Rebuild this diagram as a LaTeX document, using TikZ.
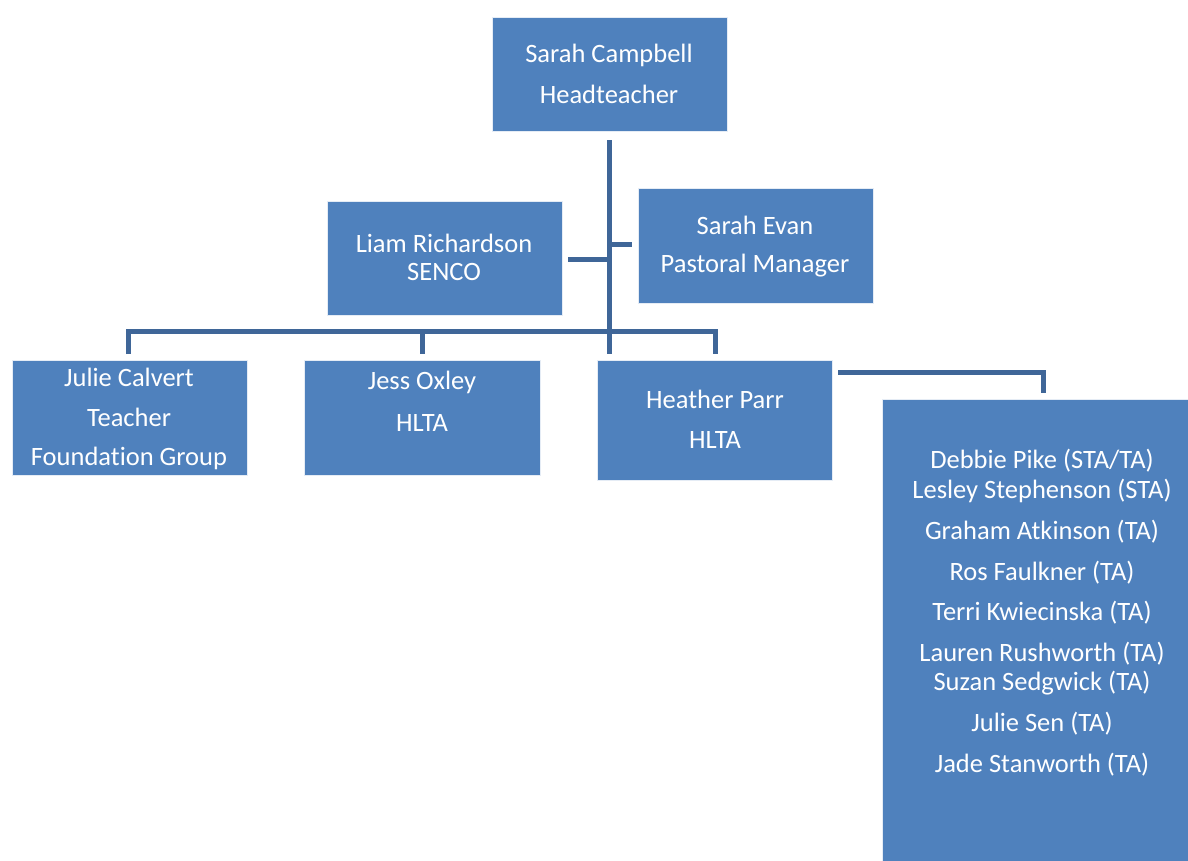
\documentclass[tikz,border=0pt]{standalone}
\usepackage{fontspec}
\setmainfont[Ligatures={NoCommon}]{Carlito}
\definecolor{boxblue}{RGB}{79,129,189}
\definecolor{lineblue}{RGB}{63,102,152}
\begin{document}
\begin{tikzpicture}[x=1pt,y=-1pt,
  box/.style={fill=boxblue, draw=white!85!boxblue, line width=0.8pt, inner sep=0pt, anchor=north west},
  txt/.style={text=white, font=\fontsize{26.5}{30}\selectfont, inner sep=0pt},
  conn/.style={draw=lineblue, line width=5pt}]
\useasboundingbox (0,0) rectangle (1188,860);
% boxes
\node[box, minimum width=235pt, minimum height=114pt] (head) at (492,17) {};
\node[box, minimum width=235pt, minimum height=114pt] (liam) at (327,201) {};
\node[box, minimum width=235pt, minimum height=115pt] (evan) at (638,188) {};
\node[box, minimum width=235pt, minimum height=115pt] (julie) at (12,360) {};
\node[box, minimum width=236pt, minimum height=115pt] (jess) at (304,360) {};
\node[box, minimum width=235pt, minimum height=120pt] (heather) at (597,360) {};
\node[box, minimum width=310pt, minimum height=465pt] (staff) at (882,399) {};
% texts
\node[txt] (t1) at (609,55) {Sarah Campbell};
\node[txt] (t2) at (609,94) {Headteacher};
\node[txt] (t3) at (444,243) {Liam Richardson};
\node[txt] (t4) at (444,272) {SENCO};
\node[txt] (t5) at (755,225) {Sarah Evan};
\node[txt] (t6) at (755,266) {Pastoral Manager};
\node[txt] (t7) at (129,377) {Julie Calvert};
\node[txt] (t8) at (129,417) {Teacher};
\node[txt] (t9) at (129,458) {Foundation Group};
\node[txt] (t10) at (422,382) {Jess Oxley};
\node[txt] (t11) at (422,423) {HLTA};
\node[txt] (t12) at (715,399) {Heather Parr};
\node[txt] (t13) at (715,440) {HLTA};
\node[txt] (s1) at (1042,461) {Debbie Pike (STA/TA)};
\node[txt] (s2) at (1042,491) {Lesley Stephenson (STA)};
\node[txt] (s3) at (1042,532) {Graham Atkinson (TA)};
\node[txt] (s4) at (1042,573) {Ros Faulkner (TA)};
\node[txt] (s5) at (1042,613) {Terri Kwiecinska (TA)};
\node[txt] (s6) at (1042,654) {Lauren Rushworth (TA)};
\node[txt] (s7) at (1042,683) {Suzan Sedgwick (TA)};
\node[txt] (s8) at (1042,724) {Julie Sen (TA)};
\node[txt] (s9) at (1042,765) {Jade Stanworth (TA)};
% connector points
\coordinate (trunkTop) at (609,140);
\coordinate (trunkBot) at (609,354);
\coordinate (liamJ) at (609,259);
\coordinate (liamE) at (568,259);
\coordinate (evanJ) at (609,244);
\coordinate (evanE) at (632,244);
\coordinate (busL) at (128,331);
\coordinate (busR) at (715,331);
\coordinate (dropA) at (128,354);
\coordinate (busB) at (422,331);
\coordinate (dropB) at (422,354);
\coordinate (dropD) at (715,354);
\coordinate (hpS) at (838,372);
\coordinate (hpC) at (1043,372);
\coordinate (hpE) at (1043,393);
% connectors
\draw[conn] (trunkTop) -- (trunkBot);
\draw[conn] (liamE) -- (liamJ);
\draw[conn] (evanJ) -- (evanE);
\draw[conn] (dropA) -- (busL) -- (busR) -- (dropD);
\draw[conn] (busB) -- (dropB);
\draw[conn] (hpS) -- (hpC) -- (hpE);
\end{tikzpicture}
\end{document}
